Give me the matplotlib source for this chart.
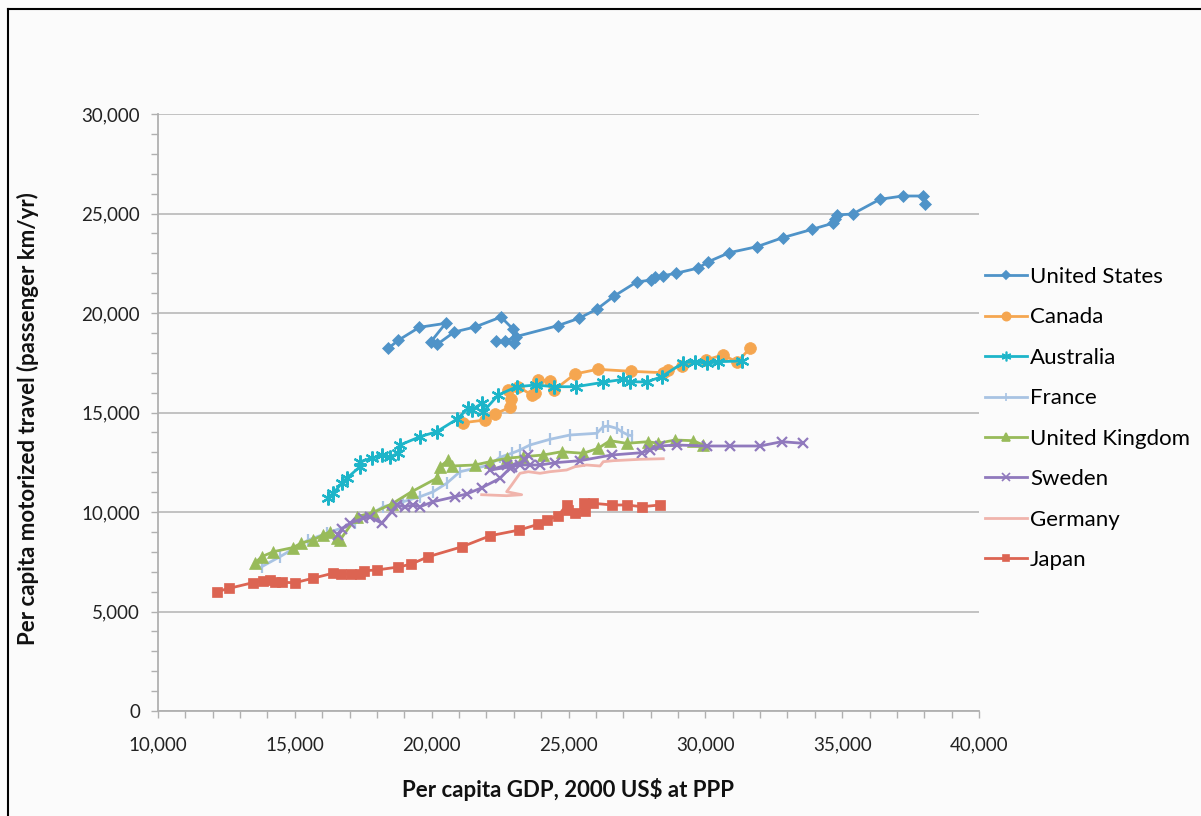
import matplotlib
matplotlib.use("Agg")
import matplotlib.pyplot as plt
from matplotlib.ticker import MultipleLocator, FuncFormatter
from matplotlib.lines import Line2D

plt.rcParams['font.family'] = ['Lato', 'DejaVu Sans']

# ---- data (GDP per capita, passenger km per capita) ----
us_x = [18414, 18780, 19547, 20511, 19974, 20205, 20826, 21582, 22532, 22981, 23007, 22338, 22678,
        23069, 24604, 25382, 26029, 26671, 27490, 28012, 28159, 28462, 28926, 29741, 30113, 30870,
        31885, 32824, 33906, 34651, 34735, 34819, 35382, 36379, 37208, 37939, 38023]
us_y = [18226, 18628, 19281, 19482, 18558, 18427, 19045, 19296, 19799, 19181, 18477, 18578, 18578,
        18809, 19362, 19734, 20186, 20854, 21558, 21658, 21794, 21874, 21995, 22261, 22578, 23030,
        23332, 23784, 24206, 24508, 24709, 24925, 24975, 25714, 25879, 25879, 25462]

ca_x = [21155, 21947, 22313, 22861, 22887, 22799, 23164, 23654, 23774, 23895, 24322, 24479, 25236,
        26065, 27282, 28440, 28645, 29156, 30022, 30632, 31166, 31630]
ca_y = [14487, 14623, 14925, 15261, 15663, 16131, 16297, 15879, 15965, 16633, 16598, 16131, 16935,
        17171, 17070, 17000, 17136, 17337, 17638, 17889, 17538, 18226]

au_x = [16222, 16405, 16712, 16895, 17380, 17380, 17808, 18173, 18476, 18780, 18842, 19573, 20183,
        20914, 21337, 21462, 21827, 21885, 22433, 23106, 23811, 24480, 25272, 26270, 27001, 27245,
        27855, 28403, 29193, 29620, 30069, 30471, 31326]
au_y = [10688, 10940, 11442, 11693, 12276, 12528, 12698, 12864, 12779, 12950, 13367, 13784, 14035,
        14658, 15211, 15126, 15462, 15040, 15879, 16296, 16382, 16296, 16296, 16518, 16668, 16548,
        16533, 16799, 17503, 17553, 17472, 17553, 17588]

fr_x = [13789, 14457, 15491, 16163, 17198, 18232, 18962, 19573, 20058, 20548, 21034, 22130, 22495,
        22923, 23226, 23591, 24322, 25053, 26029, 26270, 26452, 26759, 26941, 27183, 27307]
fr_y = [7251, 7754, 8593, 8930, 9432, 10266, 10518, 10769, 11020, 11442, 12025, 12362, 12749,
        12950, 13116, 13367, 13653, 13869, 13955, 14286, 14322, 14206, 14035, 13869, 13834]

uk_x = [13544, 13789, 14213, 14943, 15217, 15674, 16039, 16284, 16529, 16650, 17260, 17866, 18539,
        19269, 20183, 20303, 20606, 20730, 21582, 22130, 22740, 23347, 24078, 24750, 25539, 26087,
        26515, 27125, 27914, 28279, 28889, 29558, 29923]
uk_y = [7437, 7754, 8005, 8216, 8427, 8608, 8844, 9010, 8678, 8593, 9764, 9975, 10402,
        11020, 11693, 12276, 12613, 12312, 12362, 12528, 12698, 12779, 12864, 13030, 12950, 13201,
        13583, 13452, 13533, 13452, 13618, 13583, 13367]

se_x = [16588, 16712, 17015, 17501, 17746, 18173, 18539, 18721, 19024, 19328, 19573, 20058, 20851,
        21279, 21827, 22495, 22861, 23409, 23530, 23226, 22923, 22130, 22740, 23591, 23957, 24505,
        25418, 26577, 27673, 27976, 28341, 28951, 30047, 30899, 31995, 32788, 33577]
se_y = [8844, 9146, 9432, 9683, 9764, 9432, 10015, 10352, 10266, 10352, 10266, 10518, 10769,
        10905, 11216, 11693, 12196, 12613, 12864, 12362, 12276, 12111, 12362, 12362, 12362, 12477,
        12578, 12864, 12980, 13116, 13317, 13367, 13317, 13317, 13317, 13533, 13452]

de_x = [21827, 22740, 23288, 22740, 22923, 23226, 23530, 23957, 24322, 24932, 25236, 25663, 26152,
        26270, 26636, 27125, 27611, 28462]
de_y = [10869, 10819, 10869, 11020, 11357, 11945, 12025, 11945, 12025, 12111, 12276, 12362, 12312,
        12528, 12578, 12613, 12648, 12678]

jp_x = [12145, 12605, 13460, 13847, 14092, 14275, 14519, 15005, 15652, 16383, 16675, 17041, 17380,
        17527, 17991, 18780, 19233, 19876, 21115, 22142, 23201, 23895, 24202, 24625, 24932, 24991,
        25236, 25602, 25565, 25905, 26599, 27147, 27673, 28341]
jp_y = [5995, 6166, 6447, 6533, 6583, 6497, 6467, 6447, 6668, 6920, 6884, 6884, 6884,
        7050, 7085, 7236, 7372, 7754, 8256, 8809, 9095, 9382, 9598, 9814, 10352, 10101,
        9965, 10065, 10437, 10437, 10352, 10352, 10266, 10352]

series = [
    ("United States", us_x, us_y, "#4f93c8", "D", 6.5),
    ("Canada", ca_x, ca_y, "#f5a650", "o", 8.5),
    ("Australia", au_x, au_y, "#1db5c9", (6, 2, 0), 10),
    ("France", fr_x, fr_y, "#a8c3e3", "|", 9),
    ("United Kingdom", uk_x, uk_y, "#98bb5a", "^", 8.5),
    ("Sweden", se_x, se_y, "#9079bd", "x", 7.5),
    ("Germany", de_x, de_y, "#f0b4ac", None, 0),
    ("Japan", jp_x, jp_y, "#dc6452", "s", 7),
]

fig = plt.figure(figsize=(12.01, 8.16), dpi=100)
fig.patch.set_facecolor("#fbfbfb")
ax = fig.add_axes([158 / 1201, 105 / 816, 821 / 1201, 597 / 816])
ax.set_facecolor("#fbfbfb")

handles = []
for name, xs, ys, col, mk, ms in series:
    kw = dict(color=col, linewidth=2.0, label=name)
    if mk is not None:
        kw.update(marker=mk, markersize=ms, markerfacecolor=col, markeredgecolor=col,
                  markeredgewidth=1.6 if mk in ("x", "|", (6, 2, 0)) else 0.5)
    ax.plot(xs, ys, **kw)
    h = Line2D([], [], color=col, linewidth=2.0,
               marker=mk if mk is not None else None,
               markersize=ms * 0.7 if mk is not None else 0,
               markerfacecolor=col, markeredgecolor=col, markeredgewidth=1.2)
    handles.append(h)

ax.set_xlim(10000, 40000)
ax.set_ylim(0, 30000)
ax.xaxis.set_major_locator(MultipleLocator(5000))
ax.xaxis.set_minor_locator(MultipleLocator(1000))
ax.yaxis.set_major_locator(MultipleLocator(5000))
ax.yaxis.set_minor_locator(MultipleLocator(1000))
fmt = FuncFormatter(lambda v, p: "{:,.0f}".format(v))
ax.xaxis.set_major_formatter(fmt)
ax.yaxis.set_major_formatter(fmt)

ax.yaxis.grid(True, which="major", color="#bdbdbd", linewidth=1.3)
ax.set_axisbelow(True)
for s in ("top", "right"):
    ax.spines[s].set_visible(False)
for s in ("left", "bottom"):
    ax.spines[s].set_color("#b0b0b0")
    ax.spines[s].set_linewidth(1.3)

ax.tick_params(axis="both", which="both", direction="out", color="#b0b0b0", width=1.0)
ax.tick_params(axis="both", which="major", length=5, labelsize=13.5, labelcolor="#222222")
ax.tick_params(axis="both", which="minor", length=5)
ax.tick_params(axis="x", which="major", pad=13)
ax.tick_params(axis="y", which="major", pad=8)

ax.set_xlabel("Per capita GDP, 2000 US$ at PPP", fontsize=16, fontweight="bold",
              labelpad=18, color="#111111")
ax.set_ylabel("Per capita motorized travel (passenger km/yr)", fontsize=16,
              fontweight="bold", color="#111111")
ax.yaxis.set_label_coords(-0.145, 0.49)

leg = ax.legend(handles, [s[0] for s in series], loc="upper left",
                bbox_to_anchor=(985 / 1201, 1 - 267 / 816), bbox_transform=fig.transFigure,
                frameon=False, fontsize=16, handlelength=1.9, handletextpad=0.12,
                labelspacing=0.92, borderaxespad=0, borderpad=0)

# outer frame lines (left and top)
fig.add_artist(Line2D([8 / 1201, 8 / 1201], [0, 1 - 9 / 816], transform=fig.transFigure,
                      color="black", linewidth=1.5))
fig.add_artist(Line2D([8 / 1201, 1], [1 - 9 / 816, 1 - 9 / 816], transform=fig.transFigure,
                      color="black", linewidth=1.5))

fig.savefig("out.png", dpi=100, facecolor=fig.get_facecolor())
